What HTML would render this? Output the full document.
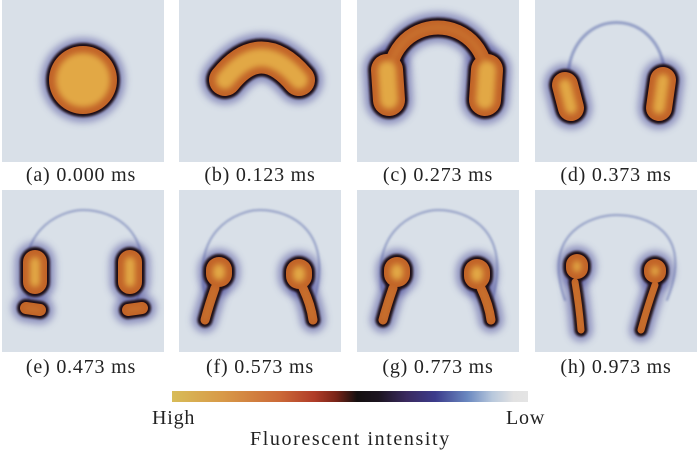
<!DOCTYPE html>
<html><head><meta charset="utf-8"><style>
body{margin:0;width:700px;height:452px;background:#fff;position:relative;overflow:hidden;font-family:"Liberation Serif",serif;color:#222}
.p{position:absolute;width:162px;height:162px;background:#d9e0e8}
.l{position:absolute;width:178px;text-align:center;font-size:20px;line-height:20px;letter-spacing:0.8px;white-space:nowrap}
.cb{position:absolute;left:172px;top:391px;width:356px;height:11px;background:linear-gradient(90deg,#d8bc58 0%,#d89a48 14%,#cc6a38 30%,#b03c28 40%,#7a2418 46%,#151010 52%,#1c1420 58%,#3a2a60 66%,#3c3c8c 74%,#6a88c0 83%,#b8c8dc 90%,#e2e2e2 96%,#e4e4e4 100%)}
.t{position:absolute;font-size:20px;letter-spacing:0.8px;white-space:nowrap}
</style></head><body>
<div class="p" style="left:2px;top:0"></div><div class="p" style="left:179px;top:0"></div>
<div class="p" style="left:357px;top:0"></div><div class="p" style="left:535px;top:0"></div>
<div class="p" style="left:2px;top:190px"></div><div class="p" style="left:179px;top:190px"></div>
<div class="p" style="left:357px;top:190px"></div><div class="p" style="left:535px;top:190px"></div>
<svg id="s" width="700" height="452" style="position:absolute;left:0;top:0">
<defs>
<filter id="b4" filterUnits="userSpaceOnUse" x="-50" y="-50" width="260" height="260"><feGaussianBlur stdDeviation="4"/></filter>
<filter id="b1" filterUnits="userSpaceOnUse" x="-50" y="-50" width="260" height="260"><feGaussianBlur stdDeviation="1"/></filter>
<filter id="b3" filterUnits="userSpaceOnUse" x="-50" y="-50" width="260" height="260"><feGaussianBlur stdDeviation="3"/></filter>
<clipPath id="cp"><rect x="0" y="0" width="162" height="162"/></clipPath>
</defs>
</svg>
<div class="l" style="left:-8px;top:165px">(a) 0.000 ms</div>
<div class="l" style="left:171px;top:165px">(b) 0.123 ms</div>
<div class="l" style="left:349px;top:165px">(c) 0.273 ms</div>
<div class="l" style="left:527px;top:165px">(d) 0.373 ms</div>
<div class="l" style="left:-8px;top:357px">(e) 0.473 ms</div>
<div class="l" style="left:171px;top:357px">(f) 0.573 ms</div>
<div class="l" style="left:349px;top:357px">(g) 0.773 ms</div>
<div class="l" style="left:527px;top:357px">(h) 0.973 ms</div>
<div class="cb"></div>
<div class="t" style="left:152px;top:407px">High</div>
<div class="t" style="left:506px;top:407px">Low</div>
<div class="t" style="left:250px;top:428px;letter-spacing:1.6px">Fluorescent intensity</div>
<script>
var A='M30,120 C5,40 60,20 81,20 C110,20 160,40 132,120';
var P=[
[2,0,[['c',81,80,34]]],
[179,0,[['p','M46,80 Q82,35 120,80',32]]],
[357,0,[['p','M32,95 C22,5 140,5 130,95',14],['p','M30,70 L32,100',32],['p','M130,70 L128,100',32]]],
[535,0,[['a','M33,75 C38,5 125,5 130,75',3],['p','M30,85 L36,108',26],['p','M128,80 L124,108',26]]],
[2,190,[['a',A,2],['p','M33,72 L33,92',24],['p','M128,72 L128,92',24],['p','M24,118 L38,120',12],['p','M126,120 L140,118',12]]],
[179,190,[['a',A,2],['p','M40,80 L40,84',26],['p','M120,82 L120,86',26],['p','M36,98 Q30,115 26,130',9],['p','M124,98 Q132,115 134,130',9]]],
[357,190,[['a',A,2],['p','M40,80 L40,84',26],['p','M120,82 L120,86',26],['p','M36,98 Q30,115 26,130',9],['p','M124,98 Q132,115 134,130',9]]],
[535,190,[['a','M30,110 C5,40 60,25 81,25 C110,25 160,40 132,110',2],['p','M42,75 L42,78',22],['p','M120,80 L120,82',22],['p','M40,92 Q44,115 46,140',7],['p','M120,95 Q112,118 106,140',7]]]
];
var s='';
function shape(e,grow,col,extra){
 if(e[0]=='c')return '<circle cx="'+e[1]+'" cy="'+e[2]+'" r="'+Math.max(1,e[3]+grow)+'" fill="'+col+'" '+extra+'/>';
 return '<path d="'+e[1]+'" fill="none" stroke="'+col+'" stroke-linecap="round" stroke-width="'+Math.max(1,e[2]+2*grow)+'" '+extra+'/>';
}
P.forEach(function(q){
 s+='<g transform="translate('+q[0]+','+q[1]+')"><g clip-path="url(#cp)">';
 var L=q[2];
 L.forEach(function(e){if(e[0]=='a')s+=shape(e,0,'#5868a8','opacity="0.55" filter="url(#b1)"');});
 L.forEach(function(e){if(e[0]!='a')s+=shape(e,8,'#4a4a98','opacity="0.55" filter="url(#b4)"');});
 L.forEach(function(e){if(e[0]!='a')s+=shape(e,3,'#1a1018','filter="url(#b1)"');});
 L.forEach(function(e){if(e[0]!='a')s+=shape(e,0,'#c26428','');});
 L.forEach(function(e){if(e[0]!='a')s+=shape(e,-7,'#e2a844','filter="url(#b3)"');});
 s+='</g></g>';
});
document.getElementById('s').insertAdjacentHTML('beforeend',s);
</script>
</body></html>
